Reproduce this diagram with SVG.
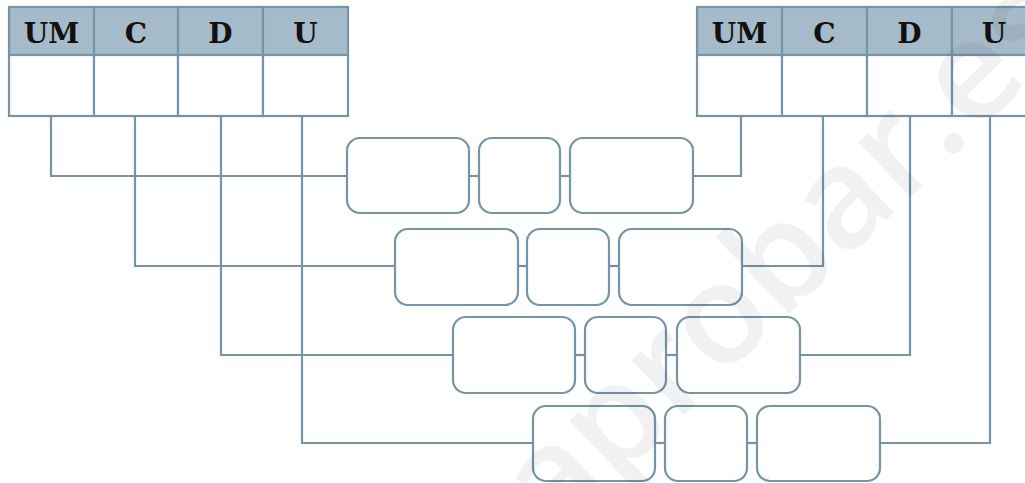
<svg xmlns="http://www.w3.org/2000/svg" width="1025" height="483" viewBox="0 0 1025 483">
<style>
.ln{fill:none;stroke:#7694a8;stroke-width:2.2}
.hd{fill:#a6bbca;stroke:#7694a8;stroke-width:2.2}
.cell{fill:#fff;stroke:#7694a8;stroke-width:2.2}
.box{fill:none;stroke:#7694a8;stroke-width:2.2}
.t{font-family:"DejaVu Serif","Liberation Serif",serif;font-weight:bold;font-size:28px;fill:#111;text-anchor:middle}
.wm{font-family:"Open Sans","Noto Sans",sans-serif;font-weight:600;font-size:140px;fill:#000;fill-opacity:0.055}
</style>
<rect width="1025" height="483" fill="#fff"/>
<g id="connectors" class="ln">
<polyline points="51,116 51,176 347,176"/>
<polyline points="135,116 135,266 395,266"/>
<polyline points="221,116 221,355 453,355"/>
<polyline points="302,116 302,443 533,443"/>
<polyline points="741,116 741,176 693,176"/>
<polyline points="823,116 823,266 742,266"/>
<polyline points="910,116 910,355 800,355"/>
<polyline points="990,116 990,443 880,443"/>
<line x1="469" y1="176" x2="479" y2="176"/>
<line x1="560" y1="176" x2="570" y2="176"/>
<line x1="518" y1="266" x2="527" y2="266"/>
<line x1="609" y1="266" x2="619" y2="266"/>
<line x1="575" y1="355" x2="585" y2="355"/>
<line x1="666" y1="355" x2="677" y2="355"/>
<line x1="655" y1="443" x2="665" y2="443"/>
<line x1="747" y1="443" x2="757" y2="443"/>
</g>
<g id="table-left">
<rect class="hd" x="9" y="7" width="85" height="48"/>
<rect class="hd" x="94" y="7" width="84" height="48"/>
<rect class="hd" x="178" y="7" width="85" height="48"/>
<rect class="hd" x="263" y="7" width="85" height="48"/>
<rect class="cell" x="9" y="55" width="85" height="61"/>
<rect class="cell" x="94" y="55" width="84" height="61"/>
<rect class="cell" x="178" y="55" width="85" height="61"/>
<rect class="cell" x="263" y="55" width="85" height="61"/>
<text class="t" x="51.5" y="43">UM</text>
<text class="t" x="136" y="43">C</text>
<text class="t" x="220.5" y="43">D</text>
<text class="t" x="305.5" y="43">U</text>
</g>
<g id="table-right">
<rect class="hd" x="697" y="7" width="85" height="48"/>
<rect class="hd" x="782" y="7" width="85" height="48"/>
<rect class="hd" x="867" y="7" width="85" height="48"/>
<rect class="hd" x="952" y="7" width="85" height="48"/>
<rect class="cell" x="697" y="55" width="85" height="61"/>
<rect class="cell" x="782" y="55" width="85" height="61"/>
<rect class="cell" x="867" y="55" width="85" height="61"/>
<rect class="cell" x="952" y="55" width="85" height="61"/>
<text class="t" x="739.5" y="43">UM</text>
<text class="t" x="824.5" y="43">C</text>
<text class="t" x="909.5" y="43">D</text>
<text class="t" x="994" y="43">U</text>
</g>
<g id="row1">
<rect class="box" x="347" y="138" width="122" height="75" rx="13"/>
<rect class="box" x="479" y="138" width="81" height="75" rx="13"/>
<rect class="box" x="570" y="138" width="123" height="75" rx="13"/>
</g>
<g id="row2">
<rect class="box" x="395" y="229" width="123" height="76" rx="13"/>
<rect class="box" x="527" y="229" width="82" height="76" rx="13"/>
<rect class="box" x="619" y="229" width="123" height="76" rx="13"/>
</g>
<g id="row3">
<rect class="box" x="453" y="317" width="122" height="76" rx="13"/>
<rect class="box" x="585" y="317" width="81" height="76" rx="13"/>
<rect class="box" x="677" y="317" width="123" height="76" rx="13"/>
</g>
<g id="row4">
<rect class="box" x="533" y="406" width="122" height="75" rx="13"/>
<rect class="box" x="665" y="406" width="82" height="75" rx="13"/>
<rect class="box" x="757" y="406" width="123" height="75" rx="13"/>
</g>
<text class="wm" transform="translate(555,540) rotate(-44)">aprobar.es</text>
</svg>
